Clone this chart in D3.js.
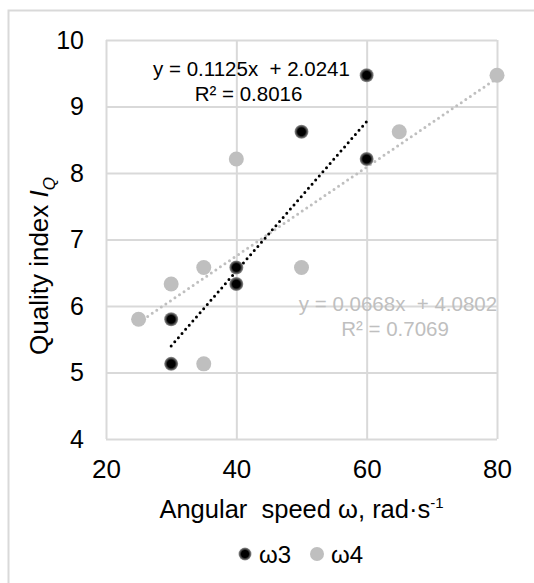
<!DOCTYPE html>
<html>
<head>
<meta charset="utf-8">
<script src="https://cdn.jsdelivr.net/npm/d3@7"></script>
<style>
  body { margin: 0; background: #fff; }
  text { font-family: "Liberation Sans", Arial, sans-serif; fill: #000; }
</style>
</head>
<body>
<svg width="534" height="583"></svg>
<script>
// data
const w3X = [30, 30, 40, 40, 50, 60, 60];
const w3Y = [5.13, 5.8, 6.33, 6.58, 8.62, 8.21, 9.47];
const w4X = [25, 30, 35, 35, 40, 50, 65, 80];
const w4Y = [5.8, 6.33, 6.58, 5.13, 8.21, 6.58, 8.62, 9.47];
const trend3 = [0.1125, 2.0241, 0.8016];   // slope, intercept, R²
const trend4 = [0.0668, 4.0802, 0.7069];
const xTicks = [20, 40, 60, 80];
const yTicks = [4, 5, 6, 7, 8, 9, 10];
const seriesNames = ["ω3", "ω4"];

const svg = d3.select("svg");
const margin = { top: 40, right: 37, bottom: 144, left: 106 };
const width = +svg.attr("width") - margin.left - margin.right;
const height = +svg.attr("height") - margin.top - margin.bottom;

const grid = "#d9d9d9";
const grey = "#bfbfbf";

// chart border
svg.append("rect")
    .attr("x", 8.5).attr("y", 10.5)
    .attr("width", 540).attr("height", 590)
    .attr("fill", "none")
    .attr("stroke", grid)
    .attr("stroke-width", 2);

// black marker gradient
const grad = svg.append("defs").append("radialGradient").attr("id", "blk");
grad.append("stop").attr("offset", "0%").attr("stop-color", "#000");
grad.append("stop").attr("offset", "55%").attr("stop-color", "#000");
grad.append("stop").attr("offset", "100%").attr("stop-color", "#999");

const g = svg.append("g").attr("transform", `translate(${margin.left},${margin.top})`);

const x = d3.scaleLinear().domain([20, 80]).range([0, width]);
const y = d3.scaleLinear().domain([4, 10]).range([height, 0]);

// gridlines
g.append("g")
    .call(d3.axisLeft(y).tickValues(yTicks).tickSize(-width).tickFormat(""))
    .call(a => a.select(".domain").remove())
    .selectAll("line").attr("stroke", grid).attr("stroke-width", 2);
g.append("g")
    .attr("transform", `translate(0,${height})`)
    .call(d3.axisBottom(x).tickValues(xTicks).tickSize(-height).tickFormat(""))
    .call(a => a.select(".domain").remove())
    .selectAll("line").attr("stroke", grid).attr("stroke-width", 2);

// tick labels
g.append("g")
    .attr("transform", `translate(0,${height})`)
    .call(d3.axisBottom(x).tickValues(xTicks).tickSize(0).tickPadding(21).tickFormat(d3.format("d")))
    .call(a => a.select(".domain").remove())
    .selectAll("text")
    .style("font-size", "26px")
    .style("font-family", "Liberation Sans, Arial, sans-serif")
    .attr("fill", "#000");
g.append("g")
    .call(d3.axisLeft(y).tickValues(yTicks).tickSize(0).tickPadding(22).tickFormat(d3.format("d")))
    .call(a => a.select(".domain").remove())
    .selectAll("text")
    .style("font-size", "25px")
    .style("font-family", "Liberation Sans, Arial, sans-serif")
    .attr("fill", "#000");

// trend lines
function trendLine(xs, t, color) {
    const ext = d3.extent(xs);
    g.append("line")
        .attr("x1", x(ext[0])).attr("y1", y(t[0] * ext[0] + t[1]))
        .attr("x2", x(ext[1])).attr("y2", y(t[0] * ext[1] + t[1]))
        .attr("stroke", color)
        .attr("stroke-width", 3)
        .attr("stroke-linecap", "round")
        .attr("stroke-dasharray", "0,5.5");
}
trendLine(w4X, trend4, grey);
trendLine(w3X, trend3, "#000");

// points
g.selectAll(".p4")
    .data(w4X.map((d, i) => [d, w4Y[i]]))
    .enter().append("circle")
    .attr("class", "p4")
    .attr("cx", d => x(d[0])).attr("cy", d => y(d[1]))
    .attr("r", 7.5)
    .attr("fill", grey);
g.selectAll(".p3")
    .data(w3X.map((d, i) => [d, w3Y[i]]))
    .enter().append("circle")
    .attr("class", "p3")
    .attr("cx", d => x(d[0])).attr("cy", d => y(d[1]))
    .attr("r", 7)
    .attr("fill", "url(#blk)");

// equations
function eqLabel(t, cx, by, color) {
    const e = g.append("text")
        .attr("text-anchor", "middle")
        .style("font-size", "20.5px")
        .style("fill", color);
    e.append("tspan").attr("x", cx).attr("y", by)
        .text(`y = ${t[0].toFixed(4)}x  + ${t[1].toFixed(4)}`)
        .attr("xml:space", "preserve");
    e.append("tspan").attr("x", cx - 3).attr("y", by + 25)
        .text(`R² = ${t[2].toFixed(4)}`);
}
eqLabel(trend3, 251.5 - margin.left, 76 - margin.top, "#000");
eqLabel(trend4, 398 - margin.left, 311 - margin.top, grey);

// axis titles
const xt = svg.append("text")
    .attr("x", margin.left + width / 2)
    .attr("y", 518)
    .attr("text-anchor", "middle")
    .style("font-size", "25.5px")
    .attr("xml:space", "preserve");
xt.append("tspan").text("Angular  speed ω, rad·s");
xt.append("tspan").attr("dy", -10).style("font-size", "15px").text("-1");

const yt = svg.append("text")
    .attr("transform", "translate(48,266) rotate(-90)")
    .attr("text-anchor", "middle")
    .style("font-size", "26px");
yt.append("tspan").text("Quality index ");
yt.append("tspan").style("font-style", "italic").text("I");
yt.append("tspan").attr("dy", 7).style("font-size", "17px").style("font-style", "italic").text("Q");

// legend
const legend = svg.append("g").attr("transform", "translate(245,554)");
const lx = [0, 72];
seriesNames.forEach((name, i) => {
    legend.append("circle")
        .attr("cx", lx[i]).attr("cy", 0)
        .attr("r", i === 0 ? 6.5 : 7)
        .attr("fill", i === 0 ? "url(#blk)" : grey);
    legend.append("text")
        .attr("x", lx[i] + 14).attr("y", 9)
        .style("font-size", "24px")
        .text(name);
});
</script>
</body>
</html>
